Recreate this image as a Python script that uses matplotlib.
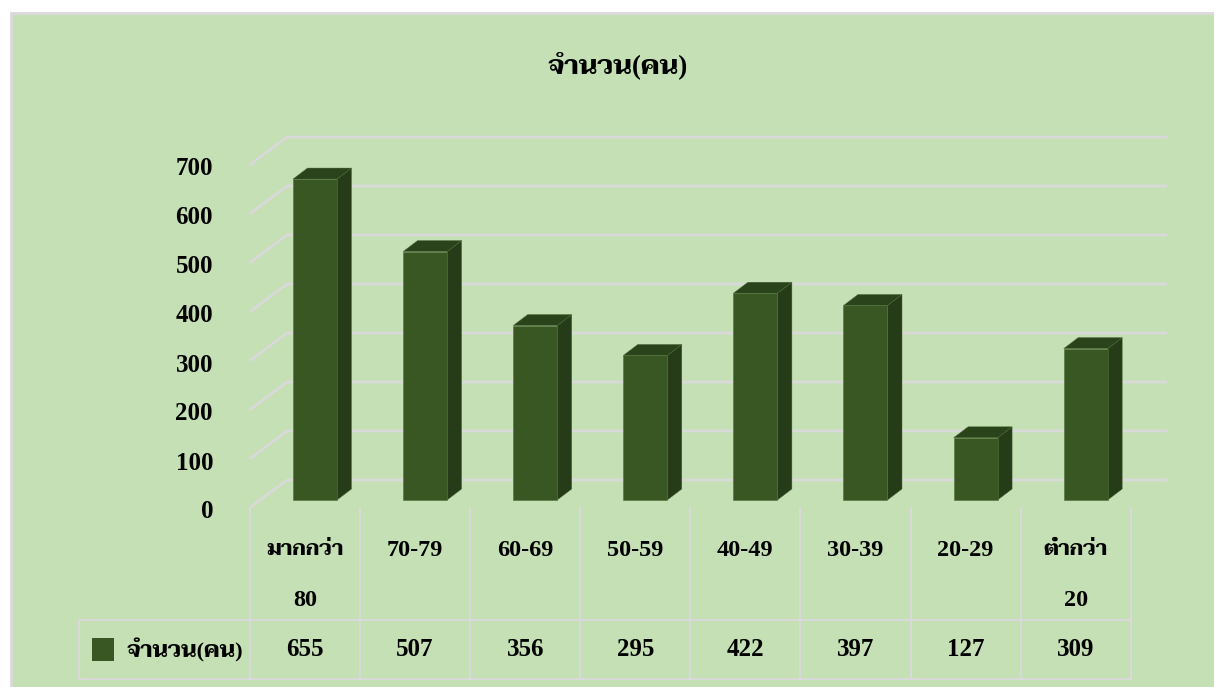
import matplotlib
matplotlib.use('Agg')
import matplotlib.pyplot as plt
from matplotlib.patches import Polygon, Rectangle

# data
title = 'จำนวน(คน)'
categories = ['มากกว่า\n80', '70-79', '60-69', '50-59', '40-49', '30-39', '20-29', 'ต่ำกว่า\n20']
values = [655, 507, 356, 295, 422, 397, 127, 309]
y_ticks = [0, 100, 200, 300, 400, 500, 600, 700]

W, H = 1214, 687
BG = '#C5E0B4'
GRID = '#D9D9D9'
FRONT = '#385723'
SIDE = '#263C18'
TOP = '#2B431B'
FONT = ['Liberation Serif', 'Taviraj']

# one category = 110.1 px, 100 people = 49 px
px_x = 110.1
px_y = 0.49
x0_px = 305.0
y0_px = 500.0

fig = plt.figure(figsize=(W / 100, H / 100), dpi=100, facecolor='white')
ax = fig.add_axes([0, 0, 1, 1])
ax.set_xlim(-x0_px / px_x, (W - x0_px) / px_x)
ax.set_ylim((y0_px - H) / px_y, y0_px / px_y)
ax.axis('off')


def dx(p):
    return p / px_x


def dy(p):
    return p / px_y


# background panel, the border is cut off on the right and at the bottom
ax.add_patch(Rectangle((dx(10.5 - x0_px), dy(y0_px - 695)), dx(1215), dy(682),
                       fc=BG, ec=GRID, lw=2, zorder=0))

ax.text(dx(617.5 - x0_px), dy(y0_px - 65), title, family=FONT, weight='bold', fontsize=19.3,
        ha='center', va='center', color='black')

# walls and grid lines
left = dx(249.5 - x0_px)
for v in y_ticks:
    ax.plot([left, left + dx(37.5), dx(1167 - x0_px)],
            [v - dy(8), v + dy(20), v + dy(20)],
            color=GRID, lw=2, solid_capstyle='butt', zorder=1)
    ax.text(dx(213 - x0_px), v - dy(12), str(v), family=FONT, weight='bold', fontsize=18,
            ha='right', va='center', color='black')

# bars
half = dx(22)
depth_x = dx(14.5)
depth_y = dy(11)
for i, v in enumerate(values):
    xc = i + dx(10)
    ax.add_patch(Polygon([(xc + half, 0), (xc + half + depth_x, depth_y),
                          (xc + half + depth_x, v + depth_y), (xc + half, v)],
                         fc=SIDE, ec='#4A6A38', lw=0.3, zorder=3))
    ax.add_patch(Polygon([(xc - half, v), (xc + half, v),
                          (xc + half + depth_x, v + depth_y), (xc - half + depth_x, v + depth_y)],
                         fc=TOP, ec='#4A6A38', lw=0.3, zorder=3))
    ax.add_patch(Rectangle((xc - half, 0), 2 * half, v, fc=FRONT, ec='#4F7339', lw=0.4, zorder=4))

# data table
edges = [i - 0.5 for i in range(len(categories) + 1)]
tab_top = -dy(8)
tab_mid = -dy(120)
tab_bot = -dy(179)
tab_left = dx(79 - x0_px)
for e in edges:
    ax.plot([e, e], [tab_top, tab_bot], color=GRID, lw=1.5, zorder=1)
ax.plot([tab_left, tab_left], [tab_mid, tab_bot], color=GRID, lw=1.5, zorder=1)
ax.plot([tab_left, edges[-1]], [tab_mid, tab_mid], color=GRID, lw=1.5, zorder=1)
ax.plot([tab_left, edges[-1]], [tab_bot, tab_bot], color=GRID, lw=1.5, zorder=1)

for i, (c, v) in enumerate(zip(categories, values)):
    for j, line in enumerate(c.split('\n')):
        # thai words come out wider than in the original, so smaller size for them
        size = 15.2 if not line[0].isdigit() else 17.5
        ax.text(i, -dy(50 + 50 * j), line, family=FONT, weight='bold', fontsize=size,
                ha='center', va='center', color='black')
    ax.text(i, -dy(150), str(v), family=FONT, weight='bold', fontsize=18,
            ha='center', va='center', color='black')

# legend key in the table
ax.add_patch(Rectangle((dx(92 - x0_px), -dy(161)), dx(22), dy(23), fc=FRONT, ec='none', zorder=3))
ax.text(dx(127 - x0_px), -dy(150), title, family=FONT, weight='bold', fontsize=16,
        ha='left', va='center', color='black')

fig.savefig('out.png', dpi=100)
